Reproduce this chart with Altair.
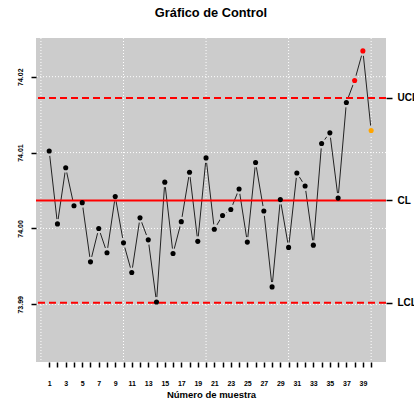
import altair as alt
import pandas as pd

# Sample measurements (individual values) in order of collection
sample = list(range(1, 41))
values = [
    74.0102, 74.0006, 74.0080, 74.0030, 74.0034, 73.9956, 74.0000, 73.9968,
    74.0042, 73.9981, 73.9942, 74.0014, 73.9985, 73.9903, 74.0061, 73.9967,
    74.0009, 74.0074, 73.9983, 74.0093, 73.9999, 74.0017, 74.0025, 74.0052,
    73.9982, 74.0087, 74.0023, 73.9923, 74.0038, 73.9975, 74.0073, 74.0056,
    73.9978, 74.0112, 74.0126, 74.0040, 74.0166, 74.0195, 74.0234, 74.0129,
]

# Control limits
limit_names = ["LCL", "CL", "UCL"]
limit_values = [73.9902, 74.0037, 74.0172]
LCL, CL, UCL = limit_values

# Reference grid positions
grid_x = [0, 10, 20, 30, 40]
grid_y = [73.99, 74.00, 74.01, 74.02]
y_ticks = [73.99, 74.00, 74.01, 74.02]

# Classify points: beyond limits, violating run (7+ on the same side), or in control
status = []
run_side, run_len = 0, 0
for v in values:
    side = 1 if v > CL else -1
    run_len = run_len + 1 if side == run_side else 1
    run_side = side
    if v > UCL or v < LCL:
        status.append("fuera")
    elif run_len >= 7:
        status.append("racha")
    else:
        status.append("ok")

df = pd.DataFrame({"muestra": sample, "valor": values, "estado": status})
lim_df = pd.DataFrame({"nombre": limit_names, "valor": limit_values})
gx_df = pd.DataFrame({"muestra": grid_x})
gy_df = pd.DataFrame({"g": grid_y})

FONT = "Liberation Sans"
BG = "#CCCCCC"

x_scale = alt.Scale(domain=[-0.6, 41.8], nice=False, zero=False)
y_scale = alt.Scale(domain=[73.9824, 74.0251], nice=False, zero=False)

# One shared bottom axis: every layer with an x channel carries the same definition
x_axis = alt.Axis(
    values=sample,
    labelExpr="datum.value % 2 == 1 ? datum.label : ''",
    title="Número de muestra",
    domain=False,
    grid=False,
    ticks=True,
    tickSize=5,
    tickWidth=1.5,
    tickRound=True,
    tickColor="#000000",
    labelFont=FONT,
    labelFontSize=7,
    labelFontWeight="bold",
    labelPadding=12,
    labelColor="black",
    labelFlush=False,
    labelOverlap=False,
    titleFont=FONT,
    titleFontSize=9.5,
    titleFontWeight="bold",
    titlePadding=3,
    titleColor="black",
)
X = alt.X("muestra:Q", scale=x_scale, axis=x_axis)

y_axis = alt.Axis(
    values=y_ticks,
    format=".2f",
    title=None,
    domain=False,
    grid=False,
    tickSize=5,
    tickWidth=1.5,
    tickColor="black",
    labelAngle=270,
    labelAlign="center",
    labelBaseline="bottom",
    labelPadding=8,
    labelFont=FONT,
    labelFontSize=7,
    labelFontWeight="bold",
    labelColor="black",
)

grid_v = alt.Chart(gx_df).mark_rule(color="white", strokeWidth=1, strokeDash=[1, 2]).encode(x=X)
grid_h = alt.Chart(gy_df).mark_rule(color="white", strokeWidth=1, strokeDash=[1, 2]).encode(
    y=alt.Y("g:Q", scale=y_scale, axis=None)
)

line = alt.Chart(df).mark_line(color="#222222", strokeWidth=1).encode(
    x=X,
    y=alt.Y("valor:Q", scale=y_scale, axis=y_axis),
)

# Background-coloured discs open a small gap in the line around each point
gaps = alt.Chart(df).mark_circle(color=BG, opacity=1, size=100).encode(
    x=X,
    y=alt.Y("valor:Q", scale=y_scale, axis=None),
)

right_axis = alt.Axis(
    orient="right",
    values=limit_values,
    labelExpr=f"datum.value > {(CL + UCL) / 2} ? 'UCL' : datum.value > {(CL + LCL) / 2} ? 'CL' : 'LCL'",
    title=None,
    domain=False,
    grid=False,
    tickSize=6,
    tickWidth=1.5,
    tickColor="black",
    labelPadding=5,
    labelFont=FONT,
    labelFontSize=10,
    labelFontWeight="bold",
    labelColor="black",
)

limits_dashed = alt.Chart(lim_df).transform_filter("datum.nombre != 'CL'").mark_rule(
    color="#FF0000", strokeWidth=2, strokeDash=[7, 4]
).encode(y=alt.Y("valor:Q", scale=y_scale, axis=right_axis))

center = alt.Chart(lim_df).transform_filter("datum.nombre == 'CL'").mark_rule(
    color="#FF0000", strokeWidth=2
).encode(y=alt.Y("valor:Q", scale=y_scale, axis=None))

points = alt.Chart(df).mark_circle(opacity=1, size=26).encode(
    x=X,
    y=alt.Y("valor:Q", scale=y_scale, axis=None),
    color=alt.Color(
        "estado:N",
        scale=alt.Scale(domain=["ok", "fuera", "racha"], range=["#000000", "#FF0000", "#FFA500"]),
        legend=None,
    ),
)

chart = (
    alt.layer(grid_v, grid_h, line, gaps, limits_dashed, center, points)
    .resolve_axis(y="independent")
    .properties(
        width=350,
        height=324,
        title=alt.TitleParams(
            "Gráfico de Control",
            font=FONT,
            fontSize=12.8,
            fontWeight="bold",
            color="black",
            anchor="middle",
            baseline="bottom",
            offset=5,
        ),
        autosize=alt.AutoSizeParams(type="none"),
        padding={"left": 36, "top": 38, "right": 28, "bottom": 52},
        background="white",
    )
    .configure_view(fill=BG, stroke=None)
)

chart.save("out.html", embed_options={"renderer": "svg", "actions": False})
